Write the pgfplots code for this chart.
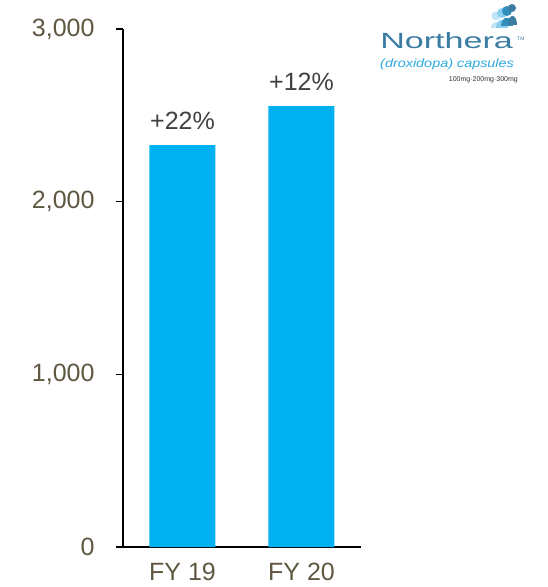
\documentclass[border=0pt]{standalone}
\usepackage{fontspec}
\setmainfont{Liberation Sans}
\usepackage{pgfplots}
\pgfplotsset{compat=1.18}

\definecolor{barblue}{HTML}{00B0F0}
\definecolor{ticktext}{HTML}{5F5742}
\definecolor{pcttext}{HTML}{404040}
\definecolor{logoblue}{HTML}{3B7CA3}
\definecolor{logolight}{HTML}{2AA9E0}

\begin{document}
\begin{tikzpicture}
\begin{axis}[
    name=ax, anchor=south west,
    scale only axis, width=238pt, height=518pt,
    xmin=-0.5, xmax=1.5, ymin=0, ymax=3000,
    axis x line*=bottom, axis y line*=left,
    axis line style={black, line width=1.3pt},
    xtick={0,1}, xticklabels={FY 19,FY 20},
    xtick style={draw=none},
    ytick={0,1000,2000,3000},
    ytick style={black, line width=1.2pt},
    tick align=outside, major tick length=7pt,
    /pgf/number format/.cd, 1000 sep={,}, assume math mode=true,
    /pgfplots/.cd,
    ticklabel style={font=\fontsize{25}{29}\selectfont, text=ticktext},
    yticklabel style={xshift=-18pt},
    xticklabel style={yshift=-6pt},
    nodes near coords,
    point meta=explicit symbolic,
    every node near coord/.append style={font=\fontsize{25}{29}\selectfont,
        text=pcttext, anchor=base, yshift=16pt, inner sep=0pt},
]
\addplot[ybar, bar width=66pt, fill=barblue, draw=none]
    coordinates {(0,2328) [+22\%] (1,2554) [+12\%]};
\end{axis}

% page frame and logo, in reference pixels from the top-left corner
\begin{scope}[shift={(ax.south west)}, x=1pt, y=-1pt, yshift=547pt, xshift=-123pt]
\pgfresetboundingbox
\path[use as bounding box] (0,0) rectangle (547,587);
\fill[logolight!30] (496,16) circle (4.5);
\fill[logolight!30] (491,28) .. controls (491,20) and (501,20) .. (501,28) -- cycle;
\fill[logolight!55] (502,13) circle (5);
\fill[logolight!55] (496,28) .. controls (496,17) and (508,17) .. (508,28) -- cycle;
\fill[logoblue!60!logolight] (507,11) circle (5);
\fill[logoblue!60!logolight] (501,26) .. controls (501,15) and (513,15) .. (513,26) -- cycle;
\fill[logoblue] (512,8) circle (4);
\fill[logoblue] (508,25) .. controls (508,13) and (517,13) .. (517,25) -- cycle;
\node[anchor=base west, inner sep=0pt, xscale=1.55, text=logoblue,
      font=\fontsize{22}{24}\selectfont] at (380,49) {Northera};
\node[anchor=base west, inner sep=0pt, text=logoblue,
      font=\fontsize{5}{6}\selectfont] at (517,41) {TM};
\node[anchor=base west, inner sep=0pt, xscale=1.2, text=logolight,
      font=\fontsize{12}{14}\itshape] at (380,68) {(droxidopa) capsules};
\node[anchor=base east, inner sep=0pt, text=black!80,
      font=\fontsize{7}{8}\selectfont] at (518,82) {100mg·200mg·300mg};
\end{scope}
\end{tikzpicture}
\end{document}
